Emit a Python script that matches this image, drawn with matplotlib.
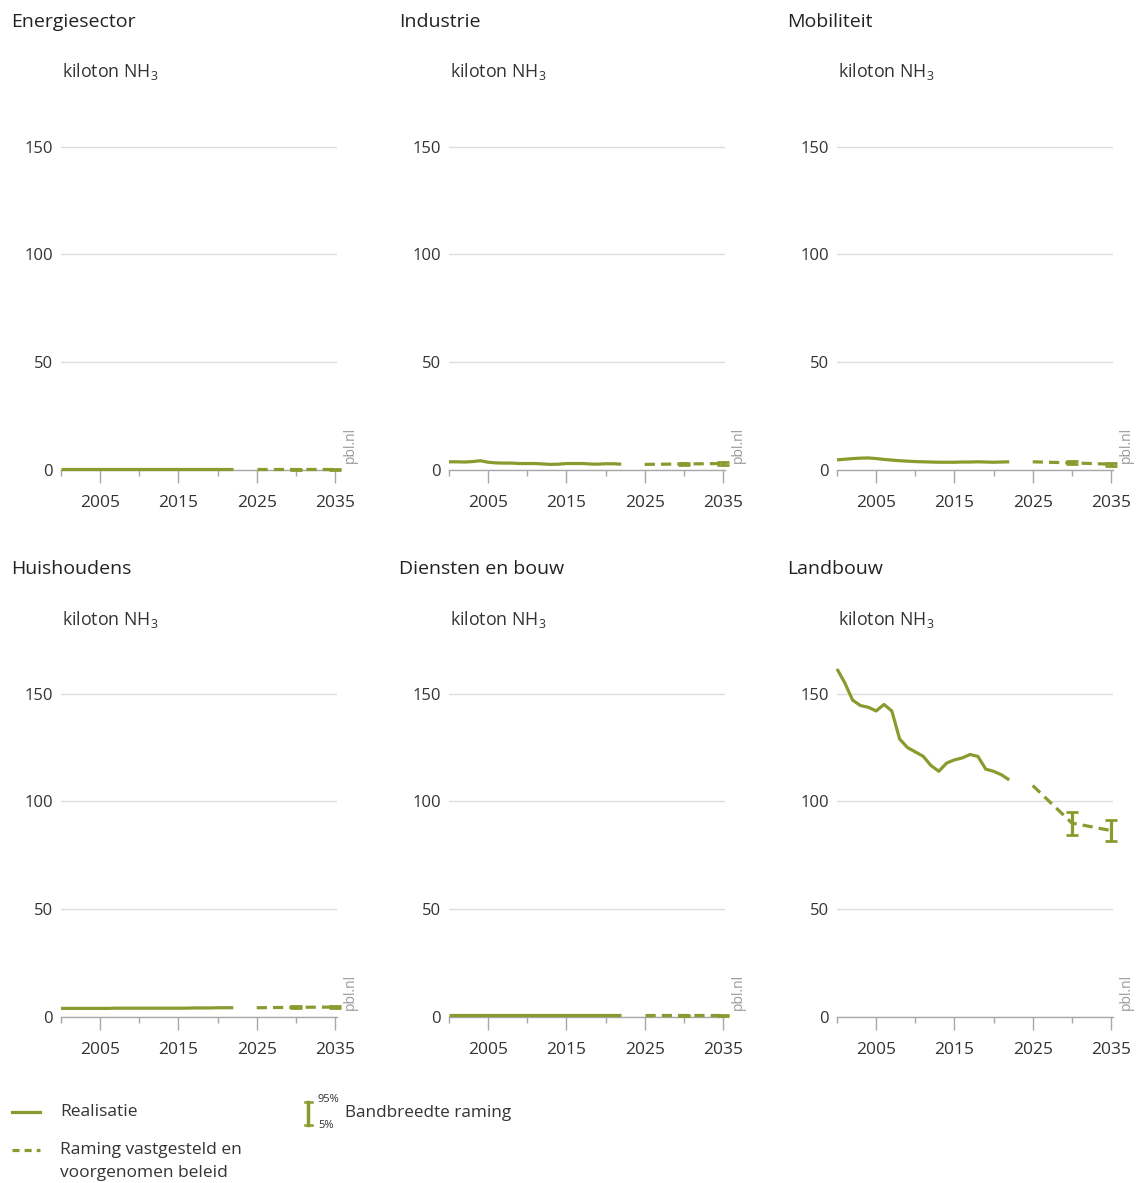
import matplotlib
matplotlib.use("Agg")
import matplotlib.pyplot as plt
from matplotlib.lines import Line2D
from matplotlib.ticker import FixedLocator

plt.rcParams["font.family"] = ["Open Sans", "DejaVu Sans"]
plt.rcParams["mathtext.default"] = "regular"

GREEN = "#8b9a2e"
GRID = "#dddddd"
AXIS = "#a8a8a8"
TEXT = "#333333"

W, H = 1137, 1183

# emissions in kiloton NH3
years = [2000, 2001, 2002, 2003, 2004, 2005, 2006, 2007, 2008, 2009, 2010, 2011,
         2012, 2013, 2014, 2015, 2016, 2017, 2018, 2019, 2020, 2021, 2022]
proj_years = [2025, 2030, 2035]
band_years = [2030, 2035]

energie = [0.3] * 23
energie_proj = [0.3, 0.3, 0.3]
energie_lo = [0.1, 0.1]
energie_hi = [0.5, 0.5]

industrie = [3.8, 3.8, 3.7, 3.9, 4.3, 3.6, 3.3, 3.2, 3.2, 3.0, 3.0, 3.0,
             2.8, 2.6, 2.7, 3.0, 3.0, 3.0, 2.8, 2.7, 2.9, 2.9, 2.7]
industrie_proj = [2.6, 2.8, 3.0]
industrie_lo = [2.2, 2.4]
industrie_hi = [3.4, 3.6]

mobiliteit = [4.7, 5.0, 5.3, 5.5, 5.6, 5.3, 4.9, 4.6, 4.3, 4.1, 3.9, 3.8,
              3.7, 3.6, 3.6, 3.6, 3.7, 3.7, 3.8, 3.7, 3.6, 3.7, 3.8]
mobiliteit_proj = [3.8, 3.3, 2.7]
mobiliteit_lo = [2.6, 1.8]
mobiliteit_hi = [4.0, 3.4]

huishoudens = [4.0, 4.0, 4.0, 4.0, 4.0, 4.0, 4.0, 4.1, 4.1, 4.1, 4.1, 4.1,
               4.1, 4.1, 4.1, 4.1, 4.1, 4.2, 4.2, 4.2, 4.3, 4.3, 4.3]
huishoudens_proj = [4.3, 4.5, 4.6]
huishoudens_lo = [4.0, 4.1]
huishoudens_hi = [5.0, 5.1]

diensten = [0.7] * 23
diensten_proj = [0.7, 0.7, 0.7]
diensten_lo = [0.5, 0.5]
diensten_hi = [0.9, 0.9]

landbouw = [161.5, 155, 147, 144.5, 143.7, 142, 145, 142, 129, 125, 123, 121,
            116.7, 114, 117.8, 119.3, 120.2, 121.8, 120.9, 115, 114, 112.4, 110]
landbouw_proj = [107.4, 90, 86.5]
landbouw_lo = [84.5, 81.5]
landbouw_hi = [95, 91.5]

panels = [
    ("Energiesector", energie, energie_proj, energie_lo, energie_hi),
    ("Industrie", industrie, industrie_proj, industrie_lo, industrie_hi),
    ("Mobiliteit", mobiliteit, mobiliteit_proj, mobiliteit_lo, mobiliteit_hi),
    ("Huishoudens", huishoudens, huishoudens_proj, huishoudens_lo, huishoudens_hi),
    ("Diensten en bouw", diensten, diensten_proj, diensten_lo, diensten_hi),
    ("Landbouw", landbouw, landbouw_proj, landbouw_lo, landbouw_hi),
]

col_left = [61, 449, 837]      # pixel x of 2000
row_zero = [470, 1017]         # pixel y of 0
px_per_year = 274 / 35
px_per_kt = 323.3 / 150
ymax = 165


def fx(x):
    return x / W


def fy(y):
    return 1 - y / H


fig = plt.figure(figsize=(W / 100, H / 100), dpi=100)

for i, (name, real, proj, lo, hi) in enumerate(panels):
    r, c = divmod(i, 3)
    left = col_left[c]
    zero = row_zero[r]
    width = 35.3 * px_per_year
    height = ymax * px_per_kt
    ax = fig.add_axes([fx(left), fy(zero), width / W, height / H])
    ax.set_xlim(2000, 2035.3)
    ax.set_ylim(0, ymax)

    ax.plot(years, real, color=GREEN, lw=2.3, solid_capstyle="butt", clip_on=False, zorder=3)
    ax.plot(proj_years, proj, color=GREEN, lw=2.3, ls=(0, (3.2, 1.9)), clip_on=False, zorder=3)
    proj_band = [proj[proj_years.index(y)] for y in band_years]
    ax.errorbar(band_years, proj_band,
                yerr=[[p - l for p, l in zip(proj_band, lo)], [h - p for p, h in zip(proj_band, hi)]],
                fmt="none", ecolor=GREEN, elinewidth=2.3, capsize=4, capthick=2.0,
                clip_on=False, zorder=4)

    for s in ["top", "right", "left"]:
        ax.spines[s].set_visible(False)
    ax.spines["bottom"].set_color(AXIS)
    ax.spines["bottom"].set_linewidth(1)
    ax.spines["bottom"].set_zorder(2)

    ax.set_yticks([0, 50, 100, 150])
    ax.yaxis.grid(True, color=GRID, lw=1)
    ax.set_axisbelow(True)
    ax.tick_params(axis="y", length=0, pad=6, labelsize=12, labelcolor=TEXT)

    ax.xaxis.set_major_locator(FixedLocator([2005, 2015, 2025, 2035]))
    ax.xaxis.set_minor_locator(FixedLocator([2000, 2010, 2020, 2030]))
    ax.tick_params(axis="x", which="major", length=9, width=1, color=AXIS,
                   pad=9, labelsize=12.5, labelcolor=TEXT)
    ax.tick_params(axis="x", which="minor", length=4, width=1, color=AXIS)

    ax.text(2036.0, 3.2, "pbl.nl", rotation=90, ha="left", va="bottom",
            fontsize=10, color="#999999")

    # panel heading and unit label
    fig.text(fx(left - 50), fy(zero - 448), name, ha="left", va="center",
             fontsize=14, color="#222222")
    fig.text(fx(left + 1), fy(zero - 398), "kiloton NH$_3$", ha="left", va="center",
             fontsize=12.8, color=TEXT)

# legend
fig.add_artist(Line2D([fx(12), fx(40)], [fy(1112), fy(1112)], transform=fig.transFigure,
                      color=GREEN, lw=2.3))
fig.text(fx(60), fy(1112), "Realisatie", ha="left", va="center", fontsize=12.5, color=TEXT)
fig.add_artist(Line2D([fx(12), fx(40)], [fy(1150), fy(1150)], transform=fig.transFigure,
                      color=GREEN, lw=2.3, ls=(0, (2.2, 1.6))))
fig.text(fx(60), fy(1150), "Raming vastgesteld en", ha="left", va="center",
         fontsize=12.5, color=TEXT)
fig.text(fx(60), fy(1173), "voorgenomen beleid", ha="left", va="center",
         fontsize=12.5, color=TEXT)

bx = fx(308)
fig.add_artist(Line2D([bx, bx], [fy(1102), fy(1125)], transform=fig.transFigure,
                      color=GREEN, lw=2.5))
for yy in (1102, 1125):
    fig.add_artist(Line2D([fx(304.5), fx(311.5)], [fy(yy), fy(yy)], transform=fig.transFigure,
                          color=GREEN, lw=1.8))
fig.text(fx(318), fy(1100), "95%", ha="left", va="center", fontsize=8, color=TEXT)
fig.text(fx(318), fy(1126), "5%", ha="left", va="center", fontsize=8, color=TEXT)
fig.text(fx(345), fy(1113), "Bandbreedte raming", ha="left", va="center",
         fontsize=12.3, color=TEXT)

fig.savefig("out.png", dpi=100)
